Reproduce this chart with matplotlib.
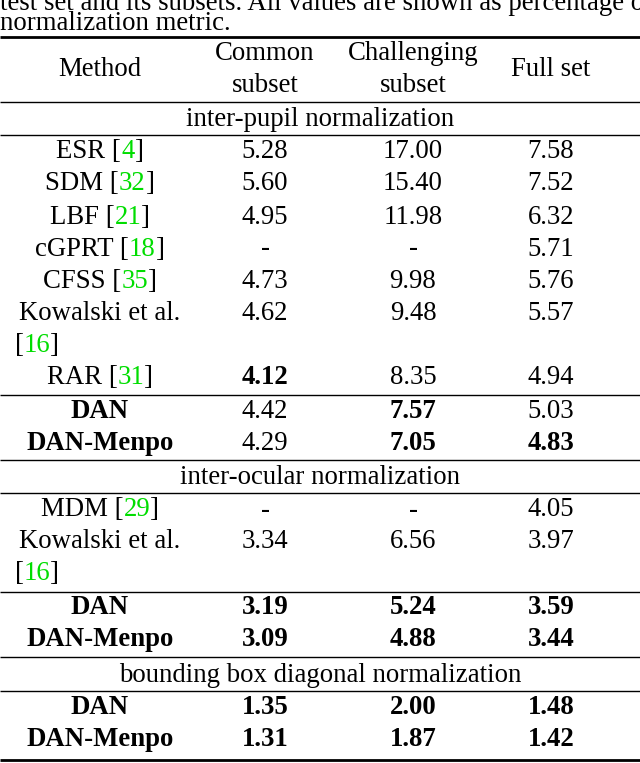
import matplotlib.pyplot as plt
from matplotlib.offsetbox import TextArea, HPacker, AnnotationBbox

plt.rcParams['font.family'] = ['Liberation Serif', 'DejaVu Serif']
FS = 19.3
GREEN = '#00dd00'

headers = [("Method", None), ("Common", "subset"), ("Challenging", "subset"), ("Full set", None)]
sections = [
    "inter-pupil normalization",
    "inter-ocular normalization",
    "bounding box diagonal normalization",
]
# (method, citation, common, challenging, full, bold flags)
pupil_rows = [
    ("ESR", "4", "5.28", "17.00", "7.58", ()),
    ("SDM", "32", "5.60", "15.40", "7.52", ()),
    ("LBF", "21", "4.95", "11.98", "6.32", ()),
    ("cGPRT", "18", "-", "-", "5.71", ()),
    ("CFSS", "35", "4.73", "9.98", "5.76", ()),
    ("Kowalski et al.", "16", "4.62", "9.48", "5.57", ()),
    ("RAR", "31", "4.12", "8.35", "4.94", (1,)),
]
pupil_dan = [
    ("DAN", None, "4.42", "7.57", "5.03", (0, 2)),
    ("DAN-Menpo", None, "4.29", "7.05", "4.83", (0, 2, 3)),
]
ocular_rows = [
    ("MDM", "29", "-", "-", "4.05", ()),
    ("Kowalski et al.", "16", "3.34", "6.56", "3.97", ()),
]
ocular_dan = [
    ("DAN", None, "3.19", "5.24", "3.59", (0, 1, 2, 3)),
    ("DAN-Menpo", None, "3.09", "4.88", "3.44", (0, 1, 2, 3)),
]
bbox_dan = [
    ("DAN", None, "1.35", "2.00", "1.48", (0, 1, 2, 3)),
    ("DAN-Menpo", None, "1.31", "1.87", "1.42", (0, 1, 2, 3)),
]

fig = plt.figure(figsize=(6.4, 7.63), dpi=100)
ax = fig.add_axes([0, 0, 1, 1])
ax.set_xlim(0, 640)
ax.set_ylim(763, 0)
ax.axis('off')

cols = [100, 265, 413, 551]


def hline(y, lw=1.0):
    ax.plot([0, 640], [y, y], color='black', lw=lw, solid_capstyle='butt')


def packed(x, y, pieces):
    parts = [TextArea(t, textprops=dict(fontsize=FS, color=c)) for t, c in pieces]
    box = HPacker(children=parts, pad=0, sep=0, align='baseline')
    ax.add_artist(AnnotationBbox(box, (x, y), frameon=False, box_alignment=(0.5, 0.5), pad=0))


def row(y, r):
    name, num, bold = r[0], r[1], r[5]
    if num is None:
        ax.text(cols[0], y, name, fontsize=FS, ha='center', va='center',
                weight='bold' if 0 in bold else 'normal')
    elif name.startswith("Kowalski"):
        ax.text(cols[0], y, name, fontsize=FS, ha='center', va='center')
        packed(37, y + 32, [("[", 'black'), (num, GREEN), ("]", 'black')])
    else:
        packed(cols[0], y, [(name + " [", 'black'), (num, GREEN), ("]", 'black')])
    for i, v in enumerate(r[2:5], start=1):
        ax.text(cols[i], y, v, fontsize=FS, ha='center', va='center',
                weight='bold' if i in bold else 'normal')


# caption fragment at the top (cut off in the source too)
ax.text(0, 4, "test set and its subsets. All values are shown as percentage of the",
        fontsize=FS, va='center', ha='left')
ax.text(0, 23, "normalization metric.", fontsize=FS, va='center', ha='left')

hline(37, 2.0)
for x, (a, b) in zip(cols, headers):
    if b is None:
        ax.text(x, 69, a, fontsize=FS, ha='center', va='center')
    else:
        ax.text(x, 53, a, fontsize=FS, ha='center', va='center')
        ax.text(x, 85, b, fontsize=FS, ha='center', va='center')
hline(102)

ax.text(320, 119, sections[0], fontsize=FS, ha='center', va='center')
hline(135)
ys = [152, 184, 217, 249, 281, 313, 378]
for y, r in zip(ys, pupil_rows):
    row(y, r)
hline(395)
for y, r in zip([411, 443], pupil_dan):
    row(y, r)
hline(460)

ax.text(320, 477, sections[1], fontsize=FS, ha='center', va='center')
hline(493)
for y, r in zip([510, 542], ocular_rows):
    row(y, r)
hline(592)
for y, r in zip([608, 640], ocular_dan):
    row(y, r)
hline(657)

ax.text(320, 675, sections[2], fontsize=FS, ha='center', va='center')
hline(691)
for y, r in zip([708, 740], bbox_dan):
    row(y, r)
hline(760, 2.0)

fig.savefig("out.png", dpi=100)
